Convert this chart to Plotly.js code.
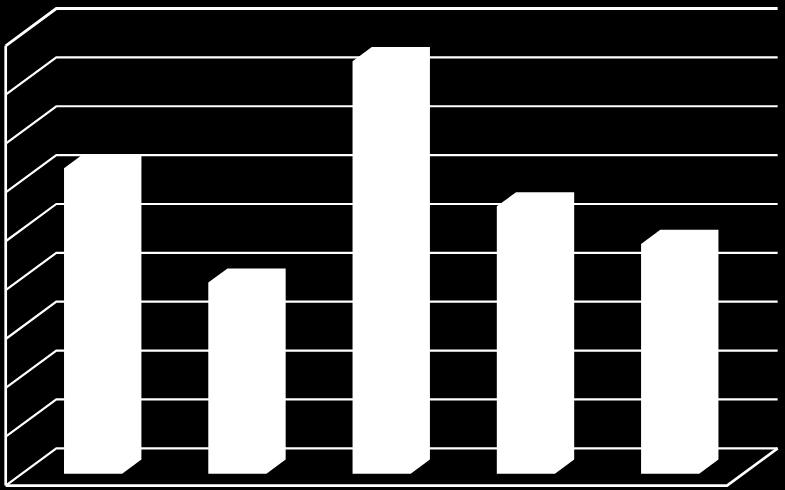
<!DOCTYPE html>
<html>
<head>
<meta charset="utf-8">
<script src="https://cdn.plot.ly/plotly-3.0.1.min.js"></script>
<style>html,body{margin:0;padding:0;background:#000;overflow:hidden}#chart{width:785px;height:490px}</style>
</head>
<body>
<div id="chart"></div>
<script>
const categories = [0, 1, 2, 3, 4];
const values = [6.25, 3.91, 8.44, 5.47, 4.7];
const gridValues = [0, 1, 2, 3, 4, 5, 6, 7, 8, 9];

const DEPTH_X = 0.351, DEPTH_Y = 0.763;
const BAR_INSET = 0.292, BAR_WIDTH = 0.403, BAR_D0 = 0.32, BAR_D1 = 0.7;
const project = (c, v, d) => [c + DEPTH_X * d, v + DEPTH_Y * d];
const poly = pts => {
  const p = pts.map(a => project(a[0], a[1], a[2]));
  return {x: p.map(a => a[0]), y: p.map(a => a[1])};
};
const n = categories.length;
const line = (pts, width) => Object.assign(poly(pts), {
  type: 'scatter', mode: 'lines', hoverinfo: 'skip', showlegend: false,
  line: {color: '#fff', width: width, simplify: false}
});
const traces = [];
gridValues.forEach(v => {
  traces.push(line([[0, v, 0], [0, v, 1], [n, v, 1]], v === 9 ? 2.8 : 2.2));
});
// wall edge and floor front edges
traces.push(line([[0, 0, 0], [0, 9, 0]], 2.7));
traces.push(line([[0, 0, 0], [n, 0, 0], [n, 0, 1]], 2.7));
// bars
categories.forEach((c, i) => {
  const l = c + BAR_INSET, r = l + BAR_WIDTH, v = values[i];
  traces.push(Object.assign(poly([
    [l, 0, BAR_D0], [r, 0, BAR_D0], [r, 0, BAR_D1], [r, v, BAR_D1],
    [l, v, BAR_D1], [l, v, BAR_D0], [l, 0, BAR_D0]
  ]), {
    type: 'scatter', mode: 'lines', fill: 'toself', fillcolor: '#fff',
    hoverinfo: 'skip', showlegend: false, line: {color: '#fff', width: 0}
  }));
});
const hidden = {visible: false, showgrid: false, zeroline: false, fixedrange: true};
Plotly.newPlot('chart', traces, {
  width: 785, height: 490,
  margin: {l: 0, r: 0, t: 0, b: 0},
  paper_bgcolor: '#000', plot_bgcolor: '#000',
  showlegend: false,
  xaxis: Object.assign({range: [-0.0395, 5.402]}, hidden),
  yaxis: Object.assign({range: [-0.09, 9.937]}, hidden)
}, {displayModeBar: false, staticPlot: true});
</script>
</body>
</html>
